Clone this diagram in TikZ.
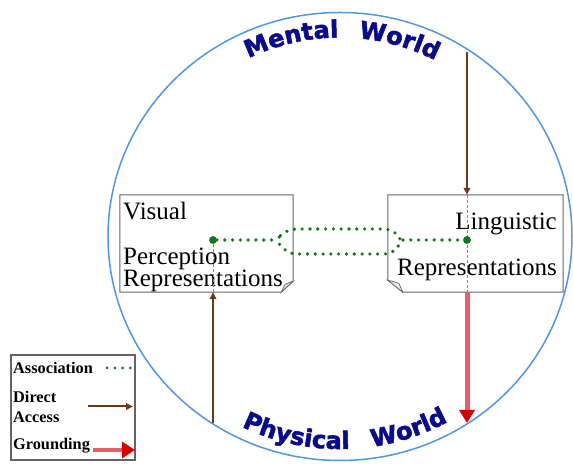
\documentclass[tikz,border=0pt]{standalone}
\usepackage{fontspec}
\setmainfont{Liberation Serif}
\newfontfamily\worldfont{DejaVu Sans}[BoldFeatures={FakeBold=2.2}]
\usetikzlibrary{arrows.meta,decorations.text,calc}
\definecolor{circblue}{RGB}{80,150,225}
\definecolor{navy}{RGB}{10,10,140}
\definecolor{assocgreen}{RGB}{20,115,30}
\definecolor{accbrown}{RGB}{110,55,25}
\definecolor{groundline}{RGB}{228,95,105}
\definecolor{groundhead}{RGB}{215,0,0}
\definecolor{boxgray}{RGB}{100,100,100}
\definecolor{ldash}{RGB}{200,120,70}
\definecolor{rdash}{RGB}{225,90,110}
\begin{document}
\begin{tikzpicture}[x=1pt,y=1pt,
  circ/.style={draw=circblue, line width=1.5pt},
  docbox/.style={inner sep=0pt, minimum height=97pt},
  boxline/.style={draw=boxgray, line width=1pt, fill=white},
  flap/.style={draw=boxgray, line width=0.7pt, fill=gray!18},
  boxtext/.style={font=\fontsize{25}{28}\selectfont, inner sep=0pt},
  legtext/.style={font=\bfseries\fontsize{16.3}{18}\selectfont, inner sep=0pt, anchor=base west},
  assoc/.style={draw=assocgreen, line width=3.6pt, line cap=round, dash pattern=on 0pt off 7.8pt},
  bigdot/.style={circle, fill=assocgreen, inner sep=0pt, minimum size=7.5pt},
  access/.style={draw=accbrown, line width=2pt, -{Triangle[length=7pt,width=6.5pt]}},
  ground/.style={draw=groundline, line width=5pt, -{Triangle[length=13pt,width=15pt,color=groundhead]}},
  innerdash/.style={line width=0.9pt, dash pattern=on 3pt off 2pt},
  worldtext/.style={decorate, decoration={text along path, text align=center,
     text={|\worldfont\bfseries\fontsize{24}{24}\selectfont\color{navy}|#1}}}
]
\useasboundingbox (0,0) rectangle (573,465);

% world circle
\draw[circ] (340,228.5) ellipse [x radius=232, y radius=224];

% curved titles
\begin{scope}[shift={(340,228.5)}]
  \path[worldtext=Mental] (125:205 and 199) arc[start angle=125, end angle=82, x radius=205, y radius=199];
  \path[worldtext=World] (95:205 and 199) arc[start angle=95, end angle=52, x radius=205, y radius=199];
  \path[worldtext=Physical] (238:220 and 212.5) arc[start angle=238, end angle=278, x radius=220, y radius=212.5];
  \path[worldtext=World] (269:220 and 212.5) arc[start angle=269, end angle=309, x radius=220, y radius=212.5];
\end{scope}

% boxes
\node[docbox, minimum width=173pt] (vis) at (206.5,221.5) {};
\node[docbox, minimum width=175pt] (ling) at (475.5,221.5) {};

\draw[boxline] (vis.north west) -- (vis.north east) -- ([yshift=11]vis.south east)
  -- ([xshift=-12]vis.south east) -- (vis.south west) -- cycle;
\draw[flap] ([yshift=11]vis.south east) -- ([xshift=-12]vis.south east)
  -- ([xshift=-8,yshift=8]vis.south east) -- cycle;

\draw[boxline] (ling.north west) -- (ling.north east) -- (ling.south east)
  -- ([xshift=15]ling.south west) -- ([yshift=12]ling.south west) -- cycle;
\draw[flap] ([yshift=12]ling.south west) -- ([xshift=15]ling.south west)
  -- ([xshift=11,yshift=9]ling.south west) -- cycle;

% box texts
\node[boxtext, anchor=base west] (tvis) at (123,245) {Visual};
\node[boxtext, anchor=base west] (tper) at (123,200) {Perception};
\node[boxtext, anchor=base west] (trep1) at (123,178) {Representations};
\node[boxtext, anchor=base east] (tling) at (557,235) {Linguistic};
\node[boxtext, anchor=base east] (trep2) at (557,189) {Representations};

% association
\node[bigdot] (vdot) at (213,225) {};
\node[bigdot] (ldot) at (467,225) {};
\coordinate (loopL) at (275,225);
\coordinate (loopR) at (403,225);

\draw[innerdash, draw=ldash] (vdot) -- (vdot |- vis.south);
\draw[innerdash, draw=rdash] (ldot |- ling.north) -- (ldot |- ling.south);

\draw[assoc] (vdot) -- (loopL);
\draw[assoc] (loopR) -- (ldot);
\draw[assoc, rounded corners=7pt] (loopL) -- (289,236) -- (391,236) -- (loopR)
  -- (392,211) -- (289,211) -- cycle;
\node[bigdot] at (vdot) {};
\node[bigdot] at (ldot) {};

% access and grounding
\coordinate (mtop) at (467,413);
\coordinate (vbot) at (213,42);
\coordinate (gtip) at (467,42);
\draw[access] (mtop) -- (ldot |- ling.north);
\draw[access] (vbot) -- (vdot |- vis.south);
\draw[ground] (ldot |- ling.south) -- (gtip);

% legend
\node[draw=boxgray, line width=1.2pt, minimum width=124pt, minimum height=105pt, inner sep=0pt] (legend) at (73,57.5) {};
\node[legtext] (lassoc) at (13,91) {Association};
\node[legtext] (ldirect) at (13,62) {Direct};
\node[legtext] (laccess) at (13,42) {Access};
\node[legtext] (lground) at (13,15) {Grounding};
\coordinate (la1) at (107,97);
\coordinate (la2) at (133,97);
\coordinate (lb1) at (88,58.5);
\coordinate (lb2) at (133,58.5);
\coordinate (lc1) at (93,15);
\coordinate (lc2) at (135,15);
\draw[assoc, line width=3pt] (la1) -- (la2);
\draw[access] (lb1) -- (lb2);
\draw[ground, line width=4.5pt, -{Triangle[length=13pt,width=16pt,color=groundhead]}] (lc1) -- (lc2);
\end{tikzpicture}
\end{document}
